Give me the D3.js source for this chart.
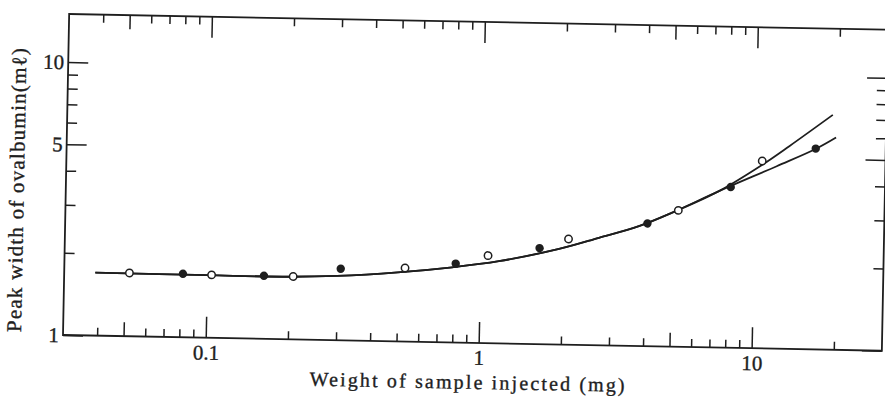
<!DOCTYPE html>
<html><head><meta charset="utf-8">
<script src="https://cdn.jsdelivr.net/npm/d3@7"></script>
<style>
body{margin:0;background:#fff}
svg{display:block;background:#fff}
text{font-family:"Liberation Serif","DejaVu Serif",serif;fill:#1e1e1e;stroke:#1e1e1e;stroke-width:0.35px}
.tick text{font-size:21px}
</style></head><body>
<svg id="c" width="885" height="397"></svg>
<script>
// ---- data ----
const openX   = [0.052, 0.104, 0.207, 0.531, 1.067, 2.098, 5.27, 10.61];
const openY   = [1.706, 1.701, 1.700, 1.860, 2.093, 2.438, 3.159, 4.857];
const filledX = [0.0817, 0.1618, 0.3088, 0.8135, 1.646, 4.07, 8.17, 16.63];
const filledY = [1.708, 1.702, 1.829, 1.945, 2.248, 2.816, 3.879, 5.44];

const commonX = [0.039, 0.1, 0.2, 0.3, 0.5, 0.79, 1.17, 1.94, 2.71, 3.79, 5.06, 7.4];
const commonY = [1.70, 1.695, 1.695, 1.72, 1.79, 1.885, 2.0, 2.24, 2.476, 2.75, 3.113, 3.742];
const upperX  = [10.6, 13.3, 19.1];
const upperY  = [4.70, 5.53, 7.25];
const lowerX  = [12.0, 16.6, 19.7];
const lowerY  = [4.66, 5.42, 5.99];

const xMajor = [0.1, 1, 10];
const xMajorLabels = ["0.1", "1", "10"];
const xMedium = [0.05, 5];
const xMinor = [0.04, 0.06, 0.07, 0.08, 0.09, 0.2, 0.3, 0.4, 0.5, 0.6, 0.7, 0.8, 0.9, 2, 3, 4, 6, 7, 8, 9, 20];
const yMajor = [1, 5, 10];
const yMajorLabels = ["1", "5", "10"];
const yMinor = [2, 3, 4, 6, 7, 8, 9];

const xTitle = "Weight of sample injected (mg)";
const yTitle = "Peak width of ovalbumin(m\u2113)";

// ---- chart ----
const svg = d3.select("#c");
const g = svg.append("g").attr("transform", "rotate(1.1,63,335)");

const x = d3.scaleLog().domain([0.03, 30]).range([63, 882]);
const y = d3.scaleLog().domain([1, 15]).range([335, 335 - 273 * Math.log10(15)]);

const ink = "#1e1e1e";
function styleAxis(sel) {
  sel.select(".domain").remove();
  sel.selectAll(".tick line").attr("stroke", ink).attr("stroke-width", 1.5);
  sel.attr("font-family", null);
}

const X0 = x.domain()[0], X1 = x.domain()[1], Y0 = y.domain()[0], Y1 = y.domain()[1];

// bottom / top
[[xMinor, 8], [xMedium, 14], [xMajor, 21]].forEach(([vals, len], k) => {
  g.append("g").attr("transform", `translate(0,${y(Y0)})`)
    .call(d3.axisBottom(x).tickValues(vals).tickSizeInner(-len).tickSizeOuter(0).tickPadding(7)
      .tickFormat(k === 2 ? (d, i) => xMajorLabels[i] : ""))
    .call(styleAxis);
  g.append("g").attr("transform", `translate(0,${y(Y1)})`)
    .call(d3.axisTop(x).tickValues(vals).tickSizeInner(-len).tickSizeOuter(0).tickFormat(""))
    .call(styleAxis);
});
// left / right
[[yMinor, 10], [yMajor, 20]].forEach(([vals, len], k) => {
  g.append("g").attr("transform", `translate(${x(X0)},0)`)
    .call(d3.axisLeft(y).tickValues(vals).tickSizeInner(-len).tickSizeOuter(0).tickPadding(4)
      .tickFormat(k === 1 ? (d, i) => yMajorLabels[i] : ""))
    .call(styleAxis);
  g.append("g").attr("transform", `translate(${x(X1)},0)`)
    .call(d3.axisRight(y).tickValues(vals).tickSizeInner(-len).tickSizeOuter(0).tickFormat(""))
    .call(styleAxis);
});

// frame
g.append("rect")
  .attr("x", x(X0)).attr("y", y(Y1))
  .attr("width", x(X1) - x(X0)).attr("height", y(Y0) - y(Y1))
  .attr("fill", "none").attr("stroke", ink).attr("stroke-width", 1.8);

// curves
const line = d3.line().x(d => x(d[0])).y(d => y(d[1])).curve(d3.curveCatmullRom.alpha(0.5));
const common = commonX.map((v, i) => [v, commonY[i]]);
const upper = common.concat(upperX.map((v, i) => [v, upperY[i]]));
const lower = common.concat(lowerX.map((v, i) => [v, lowerY[i]]));
[upper, lower].forEach(pts => {
  g.append("path").attr("d", line(pts)).attr("fill", "none")
    .attr("stroke", ink).attr("stroke-width", 1.8);
});

// points
g.selectAll("circle.open").data(openX.map((v, i) => [v, openY[i]])).join("circle")
  .attr("class", "open").attr("cx", d => x(d[0])).attr("cy", d => y(d[1]))
  .attr("r", 3.7).attr("fill", "#fff").attr("stroke", ink).attr("stroke-width", 1.5);
g.selectAll("circle.filled").data(filledX.map((v, i) => [v, filledY[i]])).join("circle")
  .attr("class", "filled").attr("cx", d => x(d[0])).attr("cy", d => y(d[1]))
  .attr("r", 4.2).attr("fill", ink);

// titles
g.append("text").attr("x", 468).attr("y", 381).attr("text-anchor", "middle")
  .attr("font-size", 20).attr("textLength", 315).attr("lengthAdjust", "spacing").text(xTitle);
g.append("text").attr("transform", "translate(21,191) rotate(-90)").attr("text-anchor", "middle")
  .attr("font-size", 21).attr("textLength", 284).attr("lengthAdjust", "spacing").text(yTitle);
</script>
</body></html>
